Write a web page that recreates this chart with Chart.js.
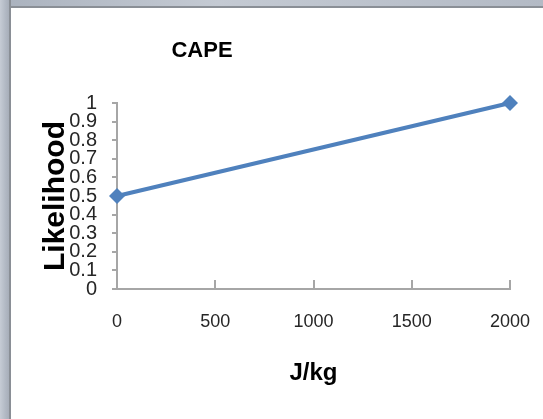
<!DOCTYPE html>
<html>
<head>
<meta charset="utf-8">
<script src="https://cdn.jsdelivr.net/npm/chart.js@4/dist/chart.umd.min.js"></script>
<style>
    body { margin: 0; background: #fff; overflow: hidden; }
    #wrap { position: relative; width: 543px; height: 419px; }
    .frameTop { position: absolute; left: 0; top: 0; width: 543px; height: 6px; background: linear-gradient(90deg, #aab2be, #c4cad3 40%, #b3bac5); border-bottom: 2px solid #8a8f96; }
    .frameLeft { position: absolute; left: 0; top: 0; width: 9px; height: 419px; background: linear-gradient(90deg, #c6ccd5, #b2b9c4 60%, #a7aeb9); border-right: 2px solid #8a8f96; }
    canvas { position: absolute; left: 0; top: 0; }
</style>
</head>
<body>
<div id="wrap">
    <div class="frameTop"></div>
    <div class="frameLeft"></div>
    <canvas id="chartCape" width="543" height="419"></canvas>
</div>
<script>
const capeValues = [0, 2000];
const likelihood = [0.5, 1];
const xTicks = [0, 500, 1000, 1500, 2000];
const chartTitle = 'CAPE';
const xTitle = 'J/kg';
const yTitle = 'Likelihood';

const lineColor = '#4f81bd';
const axisColor = '#a6a6a6';

// marcas de x hacia adentro, como en Excel
const innerTicks = {
    id: 'innerTicks',
    afterDraw(chart) {
        const { ctx, scales: { x } } = chart;
        ctx.save();
        ctx.strokeStyle = axisColor;
        ctx.lineWidth = 2;
        xTicks.forEach(v => {
            const px = Math.round(x.getPixelForValue(v));
            ctx.beginPath();
            ctx.moveTo(px, x.top);
            ctx.lineTo(px, x.top - 9);
            ctx.stroke();
        });
        ctx.restore();
    }
};

const titleText = {
    id: 'titleText',
    afterDraw(chart) {
        const { ctx, chartArea } = chart;
        ctx.save();
        ctx.font = 'bold 22px "Liberation Sans", sans-serif';
        ctx.fillStyle = '#000';
        ctx.textAlign = 'center';
        ctx.textBaseline = 'middle';
        ctx.fillText(chartTitle, chartArea.left + 85, 51);
        ctx.restore();
    }
};

new Chart(document.getElementById('chartCape'), {
    type: 'line',
    data: {
        datasets: [{
            data: capeValues.map((v, i) => ({ x: v, y: likelihood[i] })),
            borderColor: lineColor,
            backgroundColor: lineColor,
            borderWidth: 4,
            pointStyle: 'rectRot',
            pointRadius: 8,
            pointHoverRadius: 8,
            pointBorderWidth: 0,
            fill: false,
            clip: false
        }]
    },
    options: {
        responsive: false,
        animation: false,
        layout: { padding: { left: 10, right: 33, top: 103, bottom: 0 } },
        plugins: {
            legend: { display: false },
            tooltip: { enabled: false }
        },
        scales: {
            x: {
                type: 'linear',
                min: 0,
                max: 2000,
                afterBuildTicks: axis => { axis.ticks = xTicks.map(v => ({ value: v })); },
                afterFit: axis => {
                    axis.height = 130;
                    axis.paddingLeft = 0;
                    axis.paddingRight = 0;
                },
                grid: { drawOnChartArea: false, drawTicks: false },
                border: { color: axisColor, width: 2 },
                ticks: {
                    padding: 22,
                    color: '#262626',
                    callback: v => String(v),
                    font: { family: '"Liberation Sans", sans-serif', size: 18 }
                },
                title: {
                    display: true,
                    text: xTitle,
                    color: '#000',
                    padding: { top: 0, bottom: 31 },
                    font: { family: '"Liberation Sans", sans-serif', size: 24, weight: 'bold' }
                }
            },
            y: {
                min: 0,
                max: 1,
                ticks: {
                    stepSize: 0.1,
                    autoSkip: false,
                    padding: 15,
                    color: '#262626',
                    callback: v => String(Math.round(v * 10) / 10),
                    font: { family: '"Liberation Sans", sans-serif', size: 20 }
                },
                afterFit: axis => { axis.width = 107; },
                grid: { drawOnChartArea: false, drawTicks: true, tickLength: 5, color: axisColor, lineWidth: 2 },
                border: { color: axisColor, width: 2 },
                title: {
                    display: true,
                    text: yTitle,
                    color: '#000',
                    padding: { top: 28, bottom: 0 },
                    font: { family: '"Liberation Sans", sans-serif', size: 30, weight: 'bold' }
                }
            }
        }
    },
    plugins: [innerTicks, titleText]
});
</script>
</body>
</html>
